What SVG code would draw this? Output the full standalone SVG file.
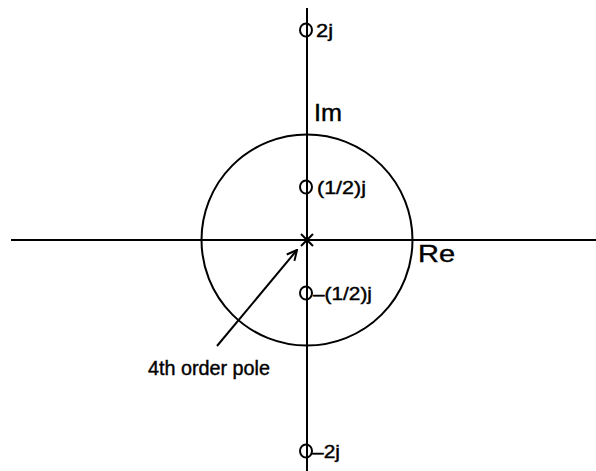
<svg xmlns="http://www.w3.org/2000/svg" width="596" height="471" viewBox="0 0 596 471">
<style>
.ln{stroke:#000;stroke-width:2;fill:none}
.z{stroke:#000;stroke-width:2;fill:none}
.t{font-family:"Liberation Sans",Arial,sans-serif;fill:#000;stroke:#000;stroke-width:0.4}
.s{font-size:18px}
.b{font-size:23px}
</style>
<defs>
<marker id="arr" viewBox="0 0 12 12" refX="11" refY="6" markerWidth="12" markerHeight="12" markerUnits="userSpaceOnUse" orient="auto">
<path d="M1,1 L11,6 L1,11" fill="none" stroke="#000" stroke-width="2"/>
</marker>
</defs>
<rect width="596" height="471" fill="#fff"/>
<g id="axes">
<line class="ln" x1="11" y1="240" x2="596" y2="240"/>
<line class="ln" x1="307" y1="8" x2="307" y2="471"/>
<text class="t b" x="314" y="121" textLength="28" lengthAdjust="spacingAndGlyphs">Im</text>
<text class="t b" x="418" y="262" textLength="37" lengthAdjust="spacingAndGlyphs">Re</text>
</g>
<g id="unit-circle">
<circle class="ln" cx="307" cy="240" r="105.5"/>
</g>
<g id="zero-2j">
<ellipse class="z" cx="306" cy="30" rx="6" ry="6.5"/>
<text class="t s" x="316" y="37" textLength="17" lengthAdjust="spacingAndGlyphs">2j</text>
</g>
<g id="zero-half-j">
<ellipse class="z" cx="306" cy="187" rx="6" ry="6.5"/>
<text class="t s" x="317" y="194" textLength="49" lengthAdjust="spacingAndGlyphs">(1/2)j</text>
</g>
<g id="zero-minus-half-j">
<ellipse class="z" cx="306" cy="293" rx="6" ry="6.5"/>
<text class="t s" x="313" y="300" textLength="59" lengthAdjust="spacingAndGlyphs">–(1/2)j</text>
</g>
<g id="zero-minus-2j">
<ellipse class="z" cx="306" cy="451" rx="6" ry="6.5"/>
<text class="t s" x="312" y="458" textLength="28" lengthAdjust="spacingAndGlyphs">–2j</text>
</g>
<g id="pole">
<path class="ln" d="M301,234 L313,246 M313,234 L301,246"/>
</g>
<g id="connectors">
<line class="ln" x1="217" y1="346" x2="297" y2="250" marker-end="url(#arr)"/>
</g>
<g id="pole-label">
<text class="t" font-size="20" x="148" y="375" textLength="122" lengthAdjust="spacingAndGlyphs">4th order pole</text>
</g>
</svg>
